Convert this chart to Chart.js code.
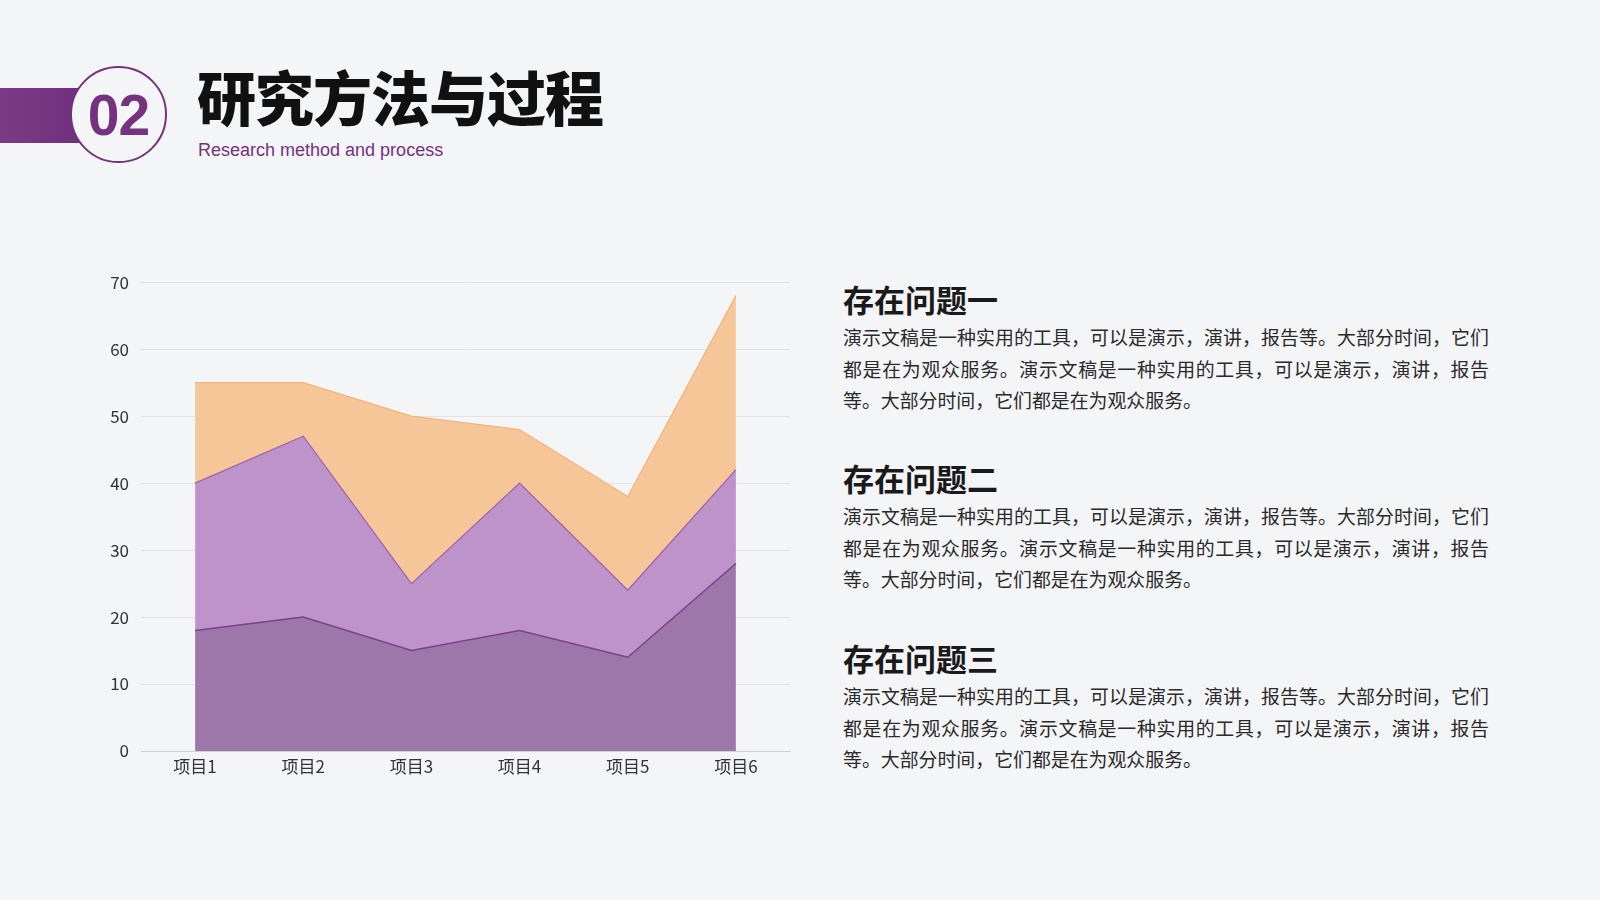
<!DOCTYPE html>
<html>
<head>
<meta charset="utf-8">
<script src="https://cdn.jsdelivr.net/npm/chart.js@4.4.1/dist/chart.umd.min.js"></script>
<style>
  html, body { margin: 0; padding: 0; }
  body {
    width: 1600px; height: 900px; overflow: hidden; position: relative;
    background: #f4f5f7;
    font-family: "Noto Sans CJK SC", "Noto Sans", sans-serif;
  }
  .bar {
    position: absolute; left: 0; top: 88px; width: 90px; height: 55px;
    background: linear-gradient(90deg, #7a3a86, #6f2f7c);
  }
  .circle {
    position: absolute; left: 70px; top: 66px; width: 97px; height: 97px;
    border: 2px solid #74327f; border-radius: 50%; background: #f4f5f7;
    box-sizing: border-box;
  }
  .num {
    position: absolute; left: 70px; top: 67px; width: 97px; height: 97px;
    line-height: 97px; text-align: center;
    font-family: "Liberation Sans", Arial, sans-serif; font-weight: bold;
    font-size: 57px; color: #74327f; letter-spacing: -1px;
  }
  .title {
    position: absolute; left: 197px; top: 56px;
    font-size: 59px; font-weight: 900; color: #111; letter-spacing: -1px;
    line-height: 80px;
  }
  .subtitle {
    position: absolute; left: 198px; top: 140px;
    font-family: "Liberation Sans", Arial, sans-serif;
    font-size: 18px; color: #74327f;
  }
  #wrap { position: absolute; left: 90px; top: 260px; width: 710px; height: 520px; }
  .item { position: absolute; left: 843px; width: 646px; }
  .item h3 {
    margin: 0; font-size: 31px; font-weight: bold; color: #1a1a1a; line-height: 44px;
  }
  .item p {
    margin: 0; font-size: 18.9px; color: #2a2a2a; line-height: 31.6px; text-align: justify;
  }
</style>
</head>
<body>
<div class="bar"></div>
<div class="circle"></div>
<div class="num">02</div>
<div class="title">研究方法与过程</div>
<div class="subtitle">Research method and process</div>

<div id="wrap"><canvas id="areaChart"></canvas></div>

<div class="item" style="top:277px"><h3>存在问题一</h3><p>演示文稿是一种实用的工具，可以是演示，演讲，报告等。大部分时间，它们都是在为观众服务。演示文稿是一种实用的工具，可以是演示，演讲，报告等。大部分时间，它们都是在为观众服务。</p></div>
<div class="item" style="top:456px"><h3>存在问题二</h3><p>演示文稿是一种实用的工具，可以是演示，演讲，报告等。大部分时间，它们都是在为观众服务。演示文稿是一种实用的工具，可以是演示，演讲，报告等。大部分时间，它们都是在为观众服务。</p></div>
<div class="item" style="top:636px"><h3>存在问题三</h3><p>演示文稿是一种实用的工具，可以是演示，演讲，报告等。大部分时间，它们都是在为观众服务。演示文稿是一种实用的工具，可以是演示，演讲，报告等。大部分时间，它们都是在为观众服务。</p></div>

<script>
// Chart data
const categories = ['项目1', '项目2', '项目3', '项目4', '项目5', '项目6'];
const series1 = [18, 20, 15, 18, 14, 28];  // bottom layer
const series2 = [22, 27, 10, 22, 10, 14];  // middle layer
const series3 = [15, 8, 25, 8, 14, 26];    // top layer
const yTicks = [0, 10, 20, 30, 40, 50, 60, 70];

const ctx = document.getElementById('areaChart').getContext('2d');
const areaChart = new Chart(ctx, {
  type: 'line',
  data: {
    labels: categories,
    datasets: [
      { label: '系列1', data: series1, fill: 'origin', backgroundColor: '#9d77a9', borderColor: '#7b3f8c', borderWidth: 1.5 },
      { label: '系列2', data: series2, fill: '-1', backgroundColor: '#bd93c9', borderColor: '#9a62ad', borderWidth: 1.2 },
      { label: '系列3', data: series3, fill: '-1', backgroundColor: '#f7c698', borderColor: '#f2b47c', borderWidth: 1.2 }
    ]
  },
  options: {
    responsive: true,
    maintainAspectRatio: false,
    animation: false,
    elements: { point: { radius: 0 }, line: { tension: 0 } },
    layout: { padding: { top: 20, right: 10, left: 0, bottom: 0 } },
    plugins: { legend: { display: false }, tooltip: { enabled: false } },
    scales: {
      x: {
        offset: true,
        grid: { display: false, drawTicks: false },
        border: { color: '#cfcfd4' },
        ticks: { color: '#333', font: { size: 17, family: 'Noto Sans CJK SC' }, padding: 5 },
        afterFit: s => { s.height = 29; }
      },
      y: {
        stacked: true,
        min: 0, max: 70,
        afterBuildTicks: s => { s.ticks = yTicks.map(v => ({ value: v })); },
        grid: { color: '#e2e3e7', drawTicks: false },
        border: { display: false },
        ticks: { color: '#333', font: { size: 17, family: 'Noto Sans CJK SC' }, padding: 12 },
        afterFit: s => { s.width = 51; }
      }
    }
  }
});
</script>
</body>
</html>
